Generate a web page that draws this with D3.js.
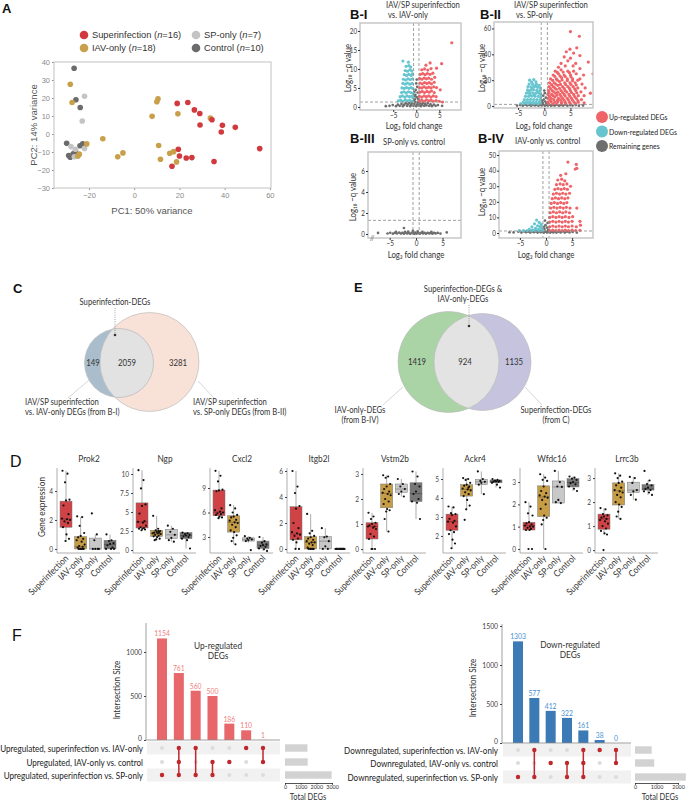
<!DOCTYPE html>
<html><head><meta charset="utf-8">
<script src="https://cdn.jsdelivr.net/npm/d3@7"></script>
<style>body{margin:0;background:#fff}svg{display:block}</style>
</head><body><svg id="c" width="687" height="800"></svg>
<script>
// ---------------- DATA ----------------
// Panel A: PCA (PC1, PC2)
const pcaGroups = ["Superinfection", "IAV-only", "SP-only", "Control"];
const pcaCounts = [16, 18, 7, 10];
const pcaSuper = [[19,17],[23.7,17.5],[26.6,13.4],[29,11.4],[29.1,5],[34.4,7.9],[39,4.8],[38.5,1.1],[44.7,3.7],[19.5,-8.5],[20,-12.2],[23,-13.3],[25.5,-13.1],[16.7,-17.9],[35.3,-15.3],[55.5,-8.1]];
const pcaIAV = [[-28.3,27.6],[-27.5,17.5],[-13.9,-2.6],[-21,-5.5],[-24.3,-11.2],[-25,-12.2],[-7.3,-12.7],[-5,-10.5],[7.9,9.8],[10,17.9],[10.5,19.5],[10.8,-6.4],[11.6,-14],[15.7,-10.7],[17.4,-9.8],[18.7,-15.5],[19.3,11.2],[33.7,8.8]];
const pcaSP = [[-22,21],[-23,7.2],[-28,-7],[-26,-8.5],[-26.5,-12.7],[-22,-8],[-25,-12.5]];
const pcaControl = [[-26.6,36.5],[-25.8,19],[-23.9,14.7],[-29.9,-5.2],[-22.8,-5.5],[-29,-12],[-28.3,-12.9],[-26,-9.5],[-27,-11],[-24,-6.5]];
const pcaXTicks = [-20, 0, 20, 40, 60];
const pcaYTicks = [-30, -20, -10, 0, 10, 20, 30, 40];

// Panel B: volcano points (log2 fold change, -log10 q)
const fcThresh = 0.585, qThresh = 1.3;
const volcLegend = ["Up-regulated DEGs", "Down-regulated DEGs", "Remaining genes"];
const bIGray = "-6.6,0.2 -5.8,0.3 -5.1,0.5 -4.4,0.2 -4.0,0.6 -3.6,0.3 -3.2,0.8 -2.9,0.2 -2.6,0.6 -2.3,1.0 -2.0,0.3 -1.8,0.7 -1.5,1.1 -1.3,0.2 -1.1,0.6 -0.9,1.0 -0.6,0.3 -0.4,0.8 -0.2,1.3 0,0.2 0.2,0.7 0.4,1.2 0.6,0.4 0.8,0.9 1.0,0.2 1.2,0.6 1.4,1.0 1.7,0.3 1.9,0.8 2.2,0.4 2.5,1.0 2.8,0.3 3.1,0.7 3.4,0.2 3.8,0.6 4.2,0.3 4.7,0.5 5.6,0.3 -0.3,2.0 0.1,2.6 -0.2,3.2 0.3,3.8 -0.1,4.5 0.2,5.3 0,6.2 -0.3,2.8 0.4,2.2 -0.4,4.0 0.1,7.2 -0.5,1.7 0.5,1.8";
const bIBlue = "-3.9,1.6 -3.4,1.8 -2.9,1.5 -2.4,1.9 -1.9,1.6 -1.4,1.8 -0.9,1.5 -3.5,2.7 -3.0,2.9 -2.5,2.6 -2.0,2.9 -1.5,2.7 -1.0,2.8 -0.7,2.4 -3.2,3.8 -2.7,4.0 -2.2,3.7 -1.7,4.0 -1.2,3.8 -0.7,3.6 -3.1,5.0 -2.6,4.9 -2.1,5.1 -1.6,4.9 -1.1,5.1 -0.7,4.8 -2.9,6.2 -2.4,6.0 -1.9,6.3 -1.4,6.0 -0.9,6.2 -2.8,7.3 -2.3,7.1 -1.8,7.4 -1.3,7.2 -0.8,7.4 -2.6,8.5 -2.1,8.3 -1.6,8.6 -1.1,8.3 -0.8,8.7 -2.4,9.6 -1.9,9.4 -1.4,9.8 -1.0,9.5 -2.2,10.7 -1.6,10.9 -1.2,10.5 -2.9,12.1 -1.7,11.8";
const bIRed = "0.7,1.6 1.2,1.8 1.7,1.5 2.2,1.9 2.7,1.6 3.2,1.8 3.7,1.5 4.3,1.7 5.0,1.5 5.7,1.3 0.7,2.8 1.2,2.6 1.7,2.9 2.2,2.7 2.7,2.9 3.2,2.6 3.7,2.9 4.3,2.7 0.8,3.9 1.3,4.1 1.8,3.8 2.3,4.1 2.8,3.9 3.3,4.2 3.9,3.8 5.2,4.5 0.7,5.1 1.2,5.0 1.7,5.3 2.2,5.0 2.7,5.2 3.2,5.0 3.8,5.3 4.4,5.1 0.8,6.3 1.3,6.1 1.8,6.4 2.3,6.2 2.8,6.4 3.3,6.1 3.9,6.5 0.7,7.5 1.2,7.3 1.7,7.6 2.2,7.4 2.7,7.6 3.3,7.3 4.0,7.8 0.9,8.6 1.4,8.8 1.9,8.5 2.4,8.8 3.0,8.6 3.6,8.9 1.2,9.8 1.8,10.0 2.5,9.7 3.2,10.1 4.4,10.2 5.5,11.4 2.1,11.0 7.7,16.9 3.0,11.6";
const bIIGray = "-5.2,0.4 -4.6,0.8 -4.1,0.3 -3.7,1.0 -3.3,0.5 -2.9,0.9 -2.5,0.3 -2.1,1.0 -1.8,0.5 -1.4,0.9 -1.1,0.3 -0.8,1.0 -0.5,0.5 -0.2,1.2 0.1,0.3 0.4,0.9 0.7,0.4 1.0,1.0 1.3,0.3 1.7,0.8 2.0,0.4 2.4,1.0 2.8,0.3 3.2,0.8 3.6,0.4 4.0,1.0 4.4,0.3 4.9,0.7 5.4,0.4 6.0,0.8 6.6,0.3 7.4,0.5 -0.3,2.5 0.2,3.5 -0.1,5 0.3,6.5 -0.2,8 0.1,10 0.4,2 -0.4,4 0,12";
const bIIBlue = "-2.8,20 -2.0,20.5 -2.4,18.5 -1.6,18.8 -2.9,17 -2.2,16.8 -1.5,17 -1.0,16 -3.1,15 -2.5,14.8 -1.9,15 -1.3,14.6 -0.8,14 -3.2,12.5 -2.6,12.3 -2.0,12.6 -1.4,12.3 -0.8,12 -3.4,10 -2.8,10 -2.2,10.2 -1.6,10 -1.0,10 -0.7,9 -3.6,7.5 -3.0,7.5 -2.4,7.7 -1.8,7.5 -1.2,7.5 -0.7,7 -3.8,5 -3.2,5 -2.6,5.2 -2.0,5 -1.4,5 -0.8,5 -4.0,3 -3.4,3 -2.8,3.2 -2.2,3 -1.6,3 -1.0,3 -0.7,2.5 -4.5,1.8 -3.8,1.7 -3.1,1.8 -2.5,1.7 -1.9,1.8 -1.3,1.7 -0.8,1.8 -2.7,8.8 -1.9,8.7 -1.3,11 -2.3,13.6 -1.7,15.8 -3.0,11.2";
const bIIRed = "5.0,57.6 6.7,54 6.2,45 4.9,44 4.2,42 5.6,41 6.8,39 3.8,38 5.0,37 4.5,35 8.4,34 6.0,33 3.2,33 5.5,31 9.3,25 2.7,30 4.0,31 6.8,29 7.5,24 2.1,27 3.2,28 4.5,27 5.6,27 1.7,24 2.7,25 3.8,24 5.0,24 6.1,25 6.8,21 1.2,21 2.3,21 3.3,22 4.4,21 5.4,21 6.4,20 1.0,18 1.9,18 2.9,19 3.9,18 4.9,18 5.9,18 7.2,17 0.9,15 1.7,15 2.6,16 3.5,15 4.5,15 5.5,15 6.4,14 7.8,14 0.8,12 1.5,12 2.3,13 3.2,12 4.0,12 5.0,12 6.0,12 7.0,11 0.7,9 1.4,9 2.2,10 3.0,9 3.8,9 4.7,9 5.6,9 6.5,8 7.6,8 8.8,10 0.7,6 1.3,6 2.0,7 2.7,6 3.5,6 4.4,6 5.2,6 6.1,6 7.1,5 0.7,3 1.3,3.5 2.0,3 2.6,3.5 3.3,3 4.0,3 4.8,3 5.7,3 6.5,3 7.6,2.5 0.8,1.7 1.6,1.8 2.4,1.7 3.3,1.8 4.1,1.7 5.0,1.8 6.0,1.7 1.1,4.5 1.8,5 2.5,4.5 3.1,4.8 3.8,4.5 4.6,4.7 5.4,4.5 6.4,4.2 1.0,7.5 1.7,8 2.4,8.3 3.2,7.5 4.0,7.7 4.9,7.5 5.8,7.4 0.9,10.5 1.8,11 2.6,10.7 3.5,10.5 4.3,10.8 5.2,10.5 6.2,10.3 1.2,13.5 2.0,14 2.9,13.7 3.8,13.5 4.8,13.6 5.8,13.3 1.4,16.5 2.2,17 3.1,16.7 4.1,16.5 5.1,16.6 6.1,16.3 1.6,19.8 2.5,20 3.4,20.2 4.4,19.7 5.4,19.5 2.0,23 3.0,23.3 4.0,22.8 5.1,22.6 2.5,26 3.6,26.3 4.8,25.8";
const bIIIGray = "-7.2,0.1 -5.4,0.05 -4.9,0.12 -4.4,0.03 -4.0,0.1 -3.6,0.05 -3.2,0.14 -2.9,0.04 -2.6,0.1 -2.3,0.03 -2.0,0.12 -1.7,0.05 -1.4,0.1 -1.1,0.02 -0.8,0.12 -0.5,0.06 -0.2,0.14 0.1,0.04 0.4,0.11 0.7,0.03 1.0,0.12 1.3,0.05 1.6,0.1 1.9,0.03 2.2,0.12 2.5,0.06 2.8,0.1 3.1,0.03 3.4,0.12 3.7,0.06 4.1,0.1 4.6,0.04 5.8,0.15 -2.3,0.57 -0.6,0.3 0.3,0.25 -1.5,0.22 -3.8,0.2 -2.1,0.2 -0.3,0.02 1.2,0.2 2.9,0.2";
const bIVGray = "-7.0,0.5 -6.2,0.4 -5.3,0.8 -4.7,0.3 -4.2,1.0 -3.8,0.5 -3.4,0.9 -3.0,0.3 -2.6,1.0 -2.3,0.5 -1.9,0.9 -1.6,0.3 -1.3,1.0 -1.0,0.5 -0.7,1.1 -0.4,0.3 -0.1,0.9 0.2,0.4 0.5,1.0 0.8,0.3 1.1,0.8 1.4,0.4 1.7,1.0 2.0,0.3 2.4,0.8 2.8,0.4 3.2,1.0 3.6,0.3 4.0,0.8 4.5,0.4 5.1,0.7 5.9,0.3 -0.3,2.5 0.2,3.5 -0.1,5 0.3,6.5 -0.2,8 0.4,2 -0.4,4";
const bIVBlue = "-1.8,8.3 -1.3,6.8 -2.2,5.9 -0.9,5.5 -1.6,4.6 -2.7,3.9 -1.1,3.6 -2.0,3.0 -3.2,2.4 -0.8,2.6 -1.5,2.2 -2.5,1.8 -3.6,1.6 -4.3,1.5 -5.1,1.5 -0.7,1.6 -1.2,1.5 -2.0,1.5 -2.9,1.5 -1.0,4.6";
const bIVRed = "0.7,1.6 1.3,1.8 1.9,1.6 2.5,1.9 3.1,1.6 3.7,1.8 4.3,1.6 5.0,1.8 5.7,1.6 6.5,1.7 0.7,4 1.3,4.5 1.9,4 2.5,4.5 3.1,4 3.7,4.5 4.3,4 5.0,4.5 5.8,4 6.6,5 0.7,7 1.3,7.5 1.9,7 2.5,7.5 3.1,7 3.7,7.5 4.3,7 5.0,7.5 6.5,7.5 0.7,10 1.3,10.5 1.9,10 2.5,10.5 3.1,10 3.7,10.5 4.4,10 5.1,10.5 0.8,13 1.4,13.5 2.0,13 2.6,13.5 3.2,13 3.8,13.5 4.5,13 0.9,16 1.5,16.5 2.1,16 2.7,16.5 3.3,16 3.9,16.5 4.6,16 5.9,16 1.0,19 1.6,19.5 2.2,19 2.8,19.5 3.4,19 4.0,19.5 1.2,22 1.8,22.5 2.4,22 3.0,22.5 3.6,22 4.2,22.5 1.4,25 2.0,25.5 2.6,25 3.2,25.5 3.8,25 4.5,25.5 1.7,28 2.3,28.5 2.9,28 3.5,28.5 4.1,28 2.0,31 2.7,31.5 3.3,31 4.0,31.5 4.7,30 2.25,34 3.0,34.5 3.6,33.5 2.8,37 3.8,38 5.6,41 5.9,41.5 4.2,45.5 5.8,44";

// Panel C / E: Venn counts
const vennC = [149, 2059, 3281];
const vennE = [1419, 924, 1135];

// Panel D: box stats [q1, median, q3, whiskerLow, whiskerHigh] per group, and points
const dGenes = ["Prok2", "Ngp", "Cxcl2", "Itgb2l", "Vstm2b", "Ackr4", "Wfdc16", "Lrrc3b"];
const dGroups = ["Superinfection", "IAV-only", "SP-only", "Control"];
const prok2Stats = [[1.5,2.07,3.3,0.5,5.4],[0,0.15,0.85,0,2.2],[0,0,0.75,0,1.0],[0,0.3,0.6,0,1.0]];
const prok2Pts = [[5.4,5.2,4.6,3.4,3.35,3.0,2.4,2.1,2.05,2.0,1.9,1.8,1.5,1.0,0.7,0.55],[2.25,2.2,1.6,1.1,0.9,0.8,0.7,0.6,0.5,0.3,0.2,0.15,0.1,0,0,0,0,0],[2.45,1.0,0.6,0,0,0,0],[1.0,0.6,0.55,0.4,0.35,0.25,0.1,0,0,0]];
const ngpStats = [[2.9,3.7,6.2,2.6,10.5],[1.8,2.2,2.6,1.3,4.5],[1.5,2.0,2.7,1.1,3.2],[1.5,1.9,2.3,0.2,2.3]];
const ngpPts = [[10.5,9.2,8.1,6.0,5.8,4.8,3.8,3.7,3.6,3.2,3.0,2.9,2.8,2.8,2.7,2.6],[4.5,2.8,2.6,2.5,2.4,2.3,2.3,2.2,2.2,2.1,2.0,1.9,1.8,1.7,1.5,1.4,1.3,2.5],[3.2,2.8,2.4,2.0,1.6,1.3,1.1],[2.3,2.2,2.1,2.0,1.9,1.8,1.7,1.5,1.3,0.2]];
const cxcl2Stats = [[5.6,6.05,8.75,5.3,11.1],[3.6,4.8,5.6,2.1,6.9],[2.5,2.7,2.9,2.3,3.1],[1.6,2.0,2.5,1.3,3.0]];
const cxcl2Pts = [[11.1,10.5,9.8,8.8,8.7,8.6,6.5,6.3,6.1,6.0,5.9,5.8,5.7,5.5,5.4,5.3],[6.9,6.5,6.0,5.7,5.5,5.4,5.1,5.0,4.8,4.7,4.5,4.2,3.8,3.6,3.2,2.9,2.5,2.1],[3.1,2.9,2.8,2.7,2.6,2.5,1.4],[3.0,2.5,2.3,2.1,2.0,1.9,1.8,1.6,1.5,1.3]];
const itgb2lStats = [[0.7,1.15,3.25,0,6.0],[0,0.5,0.95,0,2.7],[0,0.6,0.95,0,1.6],[0,0,0,0,0]];
const itgb2lPts = [[6.0,4.8,4.3,3.3,3.1,2.0,1.6,1.3,1.2,1.1,1.0,0.8,0.7,0.5,0,0],[2.7,1.4,1.2,1.0,0.9,0.8,0.7,0.6,0.5,0.5,0.4,0.3,0.1,0,0,0,0,0],[1.6,0.95,0.9,0.6,0.2,0,0],[0,0,0,0,0,0,0,0,0,0]];
const vstm2bStats = [[0.4,0.9,1.05,0,1.45],[1.65,2.23,2.6,0.7,2.95],[2.27,2.4,2.6,2.1,2.8],[1.9,2.22,2.65,1.2,3.1]];
const vstm2bPts = [[1.45,1.3,1.2,1.05,1.0,0.95,0.9,0.9,0.85,0.8,0.6,0.5,0.4,0,0,0],[2.95,2.9,2.85,2.6,2.5,2.4,2.3,2.25,2.2,2.15,2.0,1.9,1.8,1.6,1.55,1.5,1.2,0.7],[2.8,2.6,2.5,2.4,2.3,2.2,2.1],[3.1,2.9,2.6,2.5,2.3,2.2,2.0,1.9,1.85,1.2]];
const ackr4Stats = [[2.3,2.75,3.15,1.35,3.55],[4.1,4.45,4.7,3.4,5.05],[4.7,4.85,4.98,4.2,5.4],[4.8,4.87,4.95,4.55,5.0]];
const ackr4Pts = [[3.55,3.5,3.2,3.15,3.1,2.9,2.8,2.75,2.7,2.5,2.3,2.2,2.1,1.8,1.6,1.35],[5.05,5.0,4.95,4.8,4.7,4.65,4.6,4.5,4.45,4.4,4.3,4.2,4.1,3.9,3.6,3.4,2.85,4.55],[5.4,5.0,4.9,4.85,4.8,4.7,4.2],[5.0,4.95,4.92,4.9,4.88,4.86,4.85,4.8,4.7,4.55]];
const wfdc16Stats = [[0.85,1.05,1.2,0.85,2.1],[1.45,2.33,2.83,0,3.35],[2.06,2.78,3.05,2.06,3.5],[2.78,2.98,3.15,2.6,3.25]];
const wfdc16Pts = [[2.1,1.9,1.6,1.5,1.2,1.15,1.1,1.05,1.0,1.0,0.95,0.9,0.85,0.85,0,0],[3.35,3.2,3.1,3.05,2.8,2.6,2.5,2.4,2.35,2.3,2.2,2.0,1.8,1.5,1.4,1.3,1.1,0],[3.5,3.0,2.8,2.78,2.2,2.1,2.06],[3.25,3.2,3.15,3.1,3.0,2.95,2.9,2.8,2.7,2.6]];
const lrrc3bStats = [[0.87,1.3,1.5,0.65,1.75],[1.88,2.47,2.8,1.3,3.2],[2.4,2.5,2.83,2.1,3.05],[2.5,2.55,2.73,2.3,2.9]];
const lrrc3bPts = [[1.75,1.7,1.5,1.45,1.4,1.35,1.3,1.25,1.2,1.1,1.0,0.9,0.8,0.7,0.65,0],[3.2,3.1,3.0,2.85,2.8,2.7,2.6,2.5,2.45,2.4,2.3,2.2,2.0,1.9,1.8,1.6,1.4,1.3],[3.05,3.0,2.8,2.5,2.45,2.3,2.1],[3.3,2.9,2.75,2.7,2.6,2.55,2.5,2.45,2.4,2.3]];
const dTicks = [[0,2,4],[0,2.5,5,7.5,10],[3,6,9],[0,2,4,6],[0,1,2,3],[2,3,4,5],[0,1,2,3],[0,1,2,3]];

// Panel F: UpSet
const upRows = ["Upregulated, superinfection vs. IAV-only", "Upregulated, IAV-only vs. control", "Upregulated, superinfection vs. SP-only"];
const upSizes = [1154, 761, 560, 500, 186, 110, 1];
const upSets = [[2],[0,1,2],[0,2],[1,2],[1],[0],[0,1]];
const upYTicks = [0, 500, 1000];
const upTotTicks = [0, 1000, 2000, 3000];
const downRows = ["Downregulated, superinfection vs. IAV-only", "Downregulated, IAV-only vs. control", "Downregulated, superinfection vs. SP-only"];
const downSizes = [1303, 577, 412, 322, 161, 38, 0];
const downSets = [[2],[0,2],[1],[1,2],[0,1,2],[0],[0,1]];
const downYTicks = [0, 500, 1000, 1500];
const downTotTicks = [0, 1000, 2000];

// ---------------- DRAW ----------------
const svg = d3.select("#c");
const SANS = "'Liberation Sans', Arial, sans-serif";
const MY = "Lato, 'Open Sans', sans-serif";
const CONDENSE = 0.87;
const parse = s => s.trim().split(/\s+/).map(p => p.split(",").map(Number));

function txt(g, x, y, t, o = {}) {
  const e = g.append("text").attr("x", x).attr("y", y).text(t)
    .attr("font-family", o.ff || MY).attr("font-size", o.fs || 9)
    .attr("fill", o.fill || "#333").attr("text-anchor", o.anchor || "start");
  if (o.fw) e.attr("font-weight", o.fw);
  if (o.rot) e.attr("transform", `rotate(${o.rot},${x},${y})`);
  return e;
}
function styleAxis(a, fs, fill, ff) {
  a.selectAll("text").attr("font-size", fs).attr("font-family", ff || MY).attr("fill", fill);
  a.selectAll(".tick line").attr("stroke", fill);
}

// Panel labels
txt(svg, 2, 13, "A", {ff: SANS, fs: 13, fw: "bold", fill: "#111"});
txt(svg, 13, 293, "C", {ff: SANS, fs: 13, fw: "bold", fill: "#111"});
txt(svg, 354, 292, "E", {ff: SANS, fs: 13, fw: "bold", fill: "#111"});
txt(svg, 10, 467, "D", {ff: SANS, fs: 16, fill: "#111"});
txt(svg, 12, 641, "F", {ff: SANS, fs: 16, fill: "#111"});

// ---- Panel A ----
(function () {
  const colors = ["#d1393f", "#c9a04a", "#c4c4c4", "#6b6b6b"];
  const x = d3.scaleLinear().domain([-35.5, 60.5]).range([54, 271]);
  const y = d3.scaleLinear().domain([-30, 40]).range([188, 62]);
  const g = svg.append("g");
  const xa = g.append("g").attr("transform", "translate(0,188)").call(d3.axisBottom(x).tickValues(pcaXTicks).tickSize(2).tickPadding(3));
  xa.select(".domain").remove(); styleAxis(xa, 7.5, "#8a8a8a", SANS);
  const ya = g.append("g").attr("transform", "translate(54,0)").call(d3.axisLeft(y).tickValues(pcaYTicks).tickSize(2).tickPadding(2));
  ya.select(".domain").remove(); styleAxis(ya, 7.5, "#8a8a8a", SANS);
  g.append("rect").attr("x", 54).attr("y", 62).attr("width", 217).attr("height", 126)
    .attr("fill", "none").attr("stroke", "#cfcfcf").attr("stroke-width", 1.3);
  const sets = [pcaControl, pcaSP, pcaIAV, pcaSuper];
  const cidx = [3, 2, 1, 0];
  sets.forEach((s, k) => {
    g.selectAll(null).data(s).join("circle").attr("cx", d => x(d[0])).attr("cy", d => y(d[1]))
      .attr("r", 2.8).attr("fill", colors[cidx[k]]);
  });
  txt(g, 152, 214, "PC1: 50% variance", {ff: SANS, fs: 9.5, fill: "#555", anchor: "middle"});
  txt(g, 37, 125, "PC2: 14% variance", {ff: SANS, fs: 9.5, fill: "#555", anchor: "middle", rot: -90});
  const lx = [84, 84, 196, 196], ly = [35, 48, 35, 48];
  [0, 1, 2, 3].forEach(i => {
    g.append("circle").attr("cx", lx[i]).attr("cy", ly[i]).attr("r", 4.3).attr("fill", colors[i]);
    const t = g.append("text").attr("x", lx[i] + 8).attr("y", ly[i] + 3.4).attr("font-family", SANS).attr("font-size", 9.3).attr("fill", "#333");
    t.append("tspan").text(pcaGroups[i] + " (");
    t.append("tspan").attr("font-style", "italic").text("n");
    t.append("tspan").text("=" + pcaCounts[i] + ")");
  });
})();

// ---- Panel B ----
const volcLayout = [
  {name: "B-I", lx: 350, ly: 19, title: ["IAV/SP superinfection", "vs. IAV-only"], tx: 386, ty: 7.5, x0: 360, x1: 461, y0: 23, y1: 110, xd: [-12.2, 9.7], yd: [-0.8, 22.1], yt: [0, 5, 10, 15, 20], ylx: 351, yly: 68, xlx: 414, xly: 129},
  {name: "B-II", lx: 480, ly: 19, title: ["IAV/SP superinfection", "vs. SP-only"], tx: 514, ty: 7.5, x0: 494, x1: 593, y0: 22, y1: 108, xd: [-9.6, 9.3], yd: [-1.5, 65], yt: [0, 20, 40, 60], ylx: 485, yly: 68, xlx: 544, xly: 129},
  {name: "B-III", lx: 350, ly: 143, title: ["SP-only vs. control"], tx: 383, ty: 145, x0: 368, x1: 461, y0: 152, y1: 238, xd: [-9.1, 8.5], yd: [-0.38, 7.81], yt: [0, 2, 4, 6], ylx: 356, yly: 197, xlx: 416, xly: 257.5},
  {name: "B-IV", lx: 478, ly: 143, title: ["IAV-only vs. control"], tx: 515, ty: 144, x0: 499, x1: 593, y0: 151, y1: 238, xd: [-9, 9], yd: [-3.2, 52.6], yt: [0, 10, 20, 30, 40, 50], ylx: 485, yly: 192, xlx: 546, xly: 257.5}
];
const volcData = [
  [parse(bIGray), parse(bIBlue), parse(bIRed)],
  [parse(bIIGray), parse(bIIBlue), parse(bIIRed)],
  [parse(bIIIGray), [], []],
  [parse(bIVGray), parse(bIVBlue), parse(bIVRed)]
];
const volcColors = ["#6e6e6e", "#66c5cf", "#ef6468"];
volcLayout.forEach((L, i) => {
  const x = d3.scaleLinear().domain(L.xd).range([L.x0, L.x1]);
  const y = d3.scaleLinear().domain(L.yd).range([L.y1, L.y0]);
  const id = "clip" + i;
  svg.append("clipPath").attr("id", id).append("rect").attr("x", L.x0).attr("y", L.y0).attr("width", L.x1 - L.x0).attr("height", L.y1 - L.y0);
  const g = svg.append("g").attr("clip-path", `url(#${id})`);
  volcData[i].forEach((arr, k) => {
    g.selectAll(null).data(arr).join("circle").attr("cx", d => x(d[0])).attr("cy", d => y(d[1]))
      .attr("r", k === 0 ? 1.35 : 1.6).attr("fill", volcColors[k]);
  });
  [-fcThresh, fcThresh].forEach(v => g.append("line").attr("x1", x(v)).attr("x2", x(v)).attr("y1", L.y0).attr("y2", L.y1)
    .attr("stroke", "#888").attr("stroke-width", 0.8).attr("stroke-dasharray", "3,2"));
  g.append("line").attr("x1", L.x0).attr("x2", L.x1).attr("y1", y(qThresh)).attr("y2", y(qThresh))
    .attr("stroke", "#888").attr("stroke-width", 0.8).attr("stroke-dasharray", "3,2");
  svg.append("rect").attr("x", L.x0).attr("y", L.y0).attr("width", L.x1 - L.x0).attr("height", L.y1 - L.y0)
    .attr("fill", "none").attr("stroke", "#c4c4c4").attr("stroke-width", 1.4);
  const ya = svg.append("g").attr("transform", `translate(${L.x0},0)`).call(d3.axisLeft(y).tickValues(L.yt).tickSize(2).tickPadding(1));
  ya.select(".domain").remove(); styleAxis(ya, 7.2, "#333");
  const xa = svg.append("g").attr("transform", `translate(0,${L.y1})`).call(d3.axisBottom(x).tickValues([-5, 0, 5]).tickSize(2).tickPadding(0.5));
  xa.select(".domain").remove(); styleAxis(xa, 7.4, "#333");
  txt(svg, L.lx, L.ly, L.name, {ff: SANS, fs: 13, fw: "bold", fill: "#111"});
  L.title.forEach((t, j) => txt(svg, L.tx + (j ? 2 : 0), L.ty + j * 10, t, {fs: 8.8, fill: "#333"}));
  txt(svg, L.ylx, L.yly, "Log\u2081\u2080 \u2212q value", {fs: 9, anchor: "middle", fill: "#333", rot: -90});
  txt(svg, L.xlx, L.xly, "Log\u2082 fold change", {fs: 9, anchor: "middle", fill: "#333"});
  if (L.name === "B-III") txt(svg, L.x0 + 2, L.y1 + 3, "//", {fs: 7, fill: "#555"});
});
volcLegend.forEach((t, i) => {
  const cy = 117 + i * 14.5;
  svg.append("circle").attr("cx", 602).attr("cy", cy).attr("r", 6).attr("fill", [volcColors[2], volcColors[1], volcColors[0]][i]);
  txt(svg, 609, cy + 3.2, t, {fs: 7.9, fill: "#222"});
});

// ---- Venn C & E ----
function venn(cfg, counts) {
  const g = svg.append("g");
  const [A, B] = cfg.circles;
  g.append("circle").attr("cx", B.cx).attr("cy", B.cy).attr("r", B.r).attr("fill", B.fill);
  g.append("circle").attr("cx", A.cx).attr("cy", A.cy).attr("r", A.r).attr("fill", A.fill);
  svg.append("clipPath").attr("id", cfg.id).append("circle").attr("cx", B.cx).attr("cy", B.cy).attr("r", B.r);
  g.append("circle").attr("cx", A.cx).attr("cy", A.cy).attr("r", A.r).attr("fill", cfg.mid).attr("clip-path", `url(#${cfg.id})`);
  g.append("circle").attr("cx", A.cx).attr("cy", A.cy).attr("r", A.r).attr("fill", "none").attr("stroke", "#bdbdbd").attr("stroke-width", 0.7);
  g.append("circle").attr("cx", B.cx).attr("cy", B.cy).attr("r", B.r).attr("fill", "none").attr("stroke", "#bdbdbd").attr("stroke-width", 0.7);
  counts.forEach((c, i) => txt(g, cfg.numX[i], cfg.numY, c, {fs: 9, anchor: "middle", fill: "#333"}));
  cfg.head.forEach((t, i) => txt(g, cfg.headX, cfg.headY + i * 10, t, {fs: 8.8, anchor: "middle", fill: "#333"}));
  g.append("line").attr("x1", cfg.dotX).attr("x2", cfg.dotX).attr("y1", cfg.lineY0).attr("y2", cfg.dotY - 2)
    .attr("stroke", "#666").attr("stroke-width", 0.6).attr("stroke-dasharray", "1,1.2");
  g.append("circle").attr("cx", cfg.dotX).attr("cy", cfg.dotY).attr("r", 1.3).attr("fill", "#333");
  cfg.leaders.forEach(l => g.append("line").attr("x1", l[0]).attr("y1", l[1]).attr("x2", l[2]).attr("y2", l[3]).attr("stroke", "#bbb").attr("stroke-width", 0.6));
  cfg.labels.forEach(l => l.lines.forEach((t, i) => txt(g, l.x, l.y + i * 10, t, {fs: 8.8, anchor: l.anchor, fill: "#333"})));
}
venn({id: "vc", circles: [{cx: 119, cy: 363, r: 34.5, fill: "#aabdcc"}, {cx: 149.5, cy: 362, r: 49.5, fill: "#f8e1d7"}], mid: "#e2e2e2",
  numX: [93, 127, 178], numY: 366, head: ["Superinfection-DEGs"], headX: 115, headY: 305, dotX: 115, dotY: 335, lineY0: 308,
  leaders: [[89, 380, 68, 398], [198, 381, 214, 398]],
  labels: [{x: 25, y: 405, anchor: "start", lines: ["IAV/SP superinfection", "vs. IAV-only DEGs (from B-I)"]}, {x: 193, y: 405, anchor: "start", lines: ["IAV/SP superinfection", "vs. SP-only DEGs (from B-II)"]}]}, vennC);
venn({id: "ve", circles: [{cx: 448.5, cy: 362, r: 50.5, fill: "#aad3a6"}, {cx: 482.5, cy: 362, r: 48.5, fill: "#c6c3df"}], mid: "#e3e3e3",
  numX: [417, 465, 514], numY: 365, head: ["Superinfection-DEGs &", "IAV-only-DEGs"], headX: 463, headY: 292, dotX: 469, dotY: 326, lineY0: 305,
  leaders: [[403, 387, 383, 405], [525, 387, 542, 405]],
  labels: [{x: 360, y: 413, anchor: "middle", lines: ["IAV-only-DEGs", "(from B-IV)"]}, {x: 556, y: 413, anchor: "middle", lines: ["Superinfection-DEGs", "(from C)"]}]}, vennE);

// ---- Panel D ----
(function () {
  const stats = [prok2Stats, ngpStats, cxcl2Stats, itgb2lStats, vstm2bStats, ackr4Stats, wfdc16Stats, lrrc3bStats];
  const pts = [prok2Pts, ngpPts, cxcl2Pts, itgb2lPts, vstm2bPts, ackr4Pts, wfdc16Pts, lrrc3bPts];
  const doms = [[-0.28, 5.59], [-0.39, 10.79], [1.04, 11.45], [-0.31, 6.23], [-0.16, 3.24], [1.1, 5.58], [-0.18, 3.63], [-0.12, 3.42]];
  const axX = [57, 133, 210, 287, 363, 443, 520, 595];
  const fills = ["#cf4246", "#c69d45", "#c8c8c8", "#777777"];
  const jit = [-3.5, 1.5, -1, 3.5, 0, -2.5, 2.5, -4, 1, 4, -1.5, 2, -3, 0.5, 3, -0.5, -2, 1.8];
  const top = 468, bot = 553;
  dGenes.forEach((gene, i) => {
    const g = svg.append("g");
    const a0 = axX[i];
    const y = d3.scaleLinear().domain(doms[i]).range([bot, top]);
    const x = d3.scalePoint().domain(dGroups).range([a0 + 9, a0 + 53]);
    g.append("line").attr("x1", a0).attr("x2", a0).attr("y1", top).attr("y2", bot).attr("stroke", "#999").attr("stroke-width", 0.8);
    g.append("line").attr("x1", a0).attr("x2", a0 + 63).attr("y1", bot).attr("y2", bot).attr("stroke", "#999").attr("stroke-width", 0.8);
    const ya = g.append("g").attr("transform", `translate(${a0},0)`).call(d3.axisLeft(y).tickValues(dTicks[i]).tickSize(2).tickPadding(2).tickFormat(d3.format("")));
    ya.select(".domain").remove(); styleAxis(ya, 7.5, "#444");
    txt(g, a0 + 32, 462, gene, {fs: 9.5, anchor: "middle", fill: "#333"});
    dGroups.forEach((grp, j) => {
      const [q1, md, q3, lo, hi] = stats[i][j];
      const cx = x(grp);
      g.append("line").attr("x1", cx).attr("x2", cx).attr("y1", y(lo)).attr("y2", y(hi)).attr("stroke", "#888").attr("stroke-width", 0.7);
      g.append("rect").attr("x", cx - 6).attr("y", y(q3)).attr("width", 12).attr("height", Math.max(0.01, y(q1) - y(q3)))
        .attr("fill", fills[j]).attr("stroke", "#777").attr("stroke-width", 0.5);
      g.append("line").attr("x1", cx - 6).attr("x2", cx + 6).attr("y1", y(md)).attr("y2", y(md))
        .attr("stroke", d3.color(fills[j]).darker(0.9)).attr("stroke-width", 0.9);
      g.selectAll(null).data(pts[i][j]).join("circle").attr("cx", (d, k) => cx + jit[k % jit.length]).attr("cy", d => y(d))
        .attr("r", 1.1).attr("fill", "#111");
      txt(g, cx + 3, bot + 6, grp, {fs: 9.3, anchor: "end", fill: "#333", rot: -45});
    });
  });
  txt(svg, 45, 507, "Gene expression", {fs: 9.5, anchor: "middle", fill: "#333", rot: -90});
})();

// ---- Panel F ----
function upset(L, rows, sizes, sets, yTicks, totTicks) {
  const g = svg.append("g");
  const y = d3.scaleLinear().domain([0, yTicks[yTicks.length - 1]]).range([L.base, L.tickTopY]);
  const x = d3.scalePoint().domain(d3.range(sizes.length)).range([L.bx0, L.bx1]);
  [0, 2].forEach(r => g.append("rect").attr("x", L.sx0).attr("y", L.rowY[r] - 6.5).attr("width", L.sx1 - L.sx0).attr("height", 13).attr("fill", "#f1f1f1"));
  g.selectAll(null).data(sizes).join("rect").attr("x", (d, i) => x(i) - 5).attr("width", 10)
    .attr("y", d => y(d)).attr("height", d => L.base - y(d)).attr("fill", L.barColor);
  g.selectAll(null).data(sizes).join("text").attr("x", (d, i) => x(i)).attr("y", d => y(d) - 2).text(d => d)
    .attr("text-anchor", "middle").attr("font-family", MY).attr("font-size", 7.8).attr("fill", L.lblColor);
  g.append("line").attr("x1", L.axX).attr("x2", L.axX).attr("y1", L.axTop).attr("y2", L.base).attr("stroke", "#888").attr("stroke-width", 0.8);
  g.append("line").attr("x1", L.axX).attr("x2", L.sx1).attr("y1", L.base).attr("y2", L.base).attr("stroke", "#888").attr("stroke-width", 0.8);
  const ya = g.append("g").attr("transform", `translate(${L.axX},0)`).call(d3.axisLeft(y).tickValues(yTicks).tickSize(2).tickPadding(2).tickFormat(d3.format("d")));
  ya.select(".domain").remove(); styleAxis(ya, 7.8, "#444");
  ya.selectAll(".tick text").filter(d => d === 0).attr("dy", "0.02em");
  txt(g, L.ylX, L.ylY, "Intersection Size", {fs: 9.3, anchor: "middle", fill: "#333", rot: -90});
  L.title.forEach((t, i) => txt(g, L.tX, L.tY + i * 10, t, {fs: 9.6, anchor: "middle", fill: "#333"}));
  sizes.forEach((s, i) => {
    const act = sets[i];
    const ys = act.map(r => L.rowY[r]);
    [0, 1, 2].forEach(r => {
      if (!act.includes(r)) g.append("circle").attr("cx", x(i)).attr("cy", L.rowY[r]).attr("r", 2).attr("fill", "#dcdcdc");
    });
    if (act.length > 1) g.append("line").attr("x1", x(i)).attr("x2", x(i)).attr("y1", d3.min(ys)).attr("y2", d3.max(ys)).attr("stroke", "#c0272d").attr("stroke-width", 1.5);
    act.forEach(r => g.append("circle").attr("cx", x(i)).attr("cy", L.rowY[r]).attr("r", 2.2).attr("fill", "#c0272d"));
  });
  rows.forEach((t, r) => txt(g, L.labX, L.rowY[r] + 3.5, t, {fs: 9.3, anchor: "end", fill: "#222"}));
  const totals = [0, 1, 2].map(r => d3.sum(sizes.filter((s, i) => sets[i].includes(r))));
  const tx = d3.scaleLinear().domain([0, totTicks[totTicks.length - 1]]).range([L.tx0, L.tx1]);
  totals.forEach((t, r) => g.append("rect").attr("x", tx(0)).attr("y", L.rowY[r] - 3.7).attr("width", tx(t) - tx(0)).attr("height", 7.4).attr("fill", "#d2d2d2"));
  const ta = g.append("g").attr("transform", `translate(0,${L.totAxY})`).call(d3.axisBottom(tx).tickValues(totTicks).tickSize(1.5).tickPadding(0.5).tickFormat(d3.format("d")));
  ta.select(".domain").attr("stroke", "#555"); styleAxis(ta, 6.2, "#333");
  txt(g, L.ttX, 799.5, "Total DEGs", {fs: 8.6, anchor: "middle", fill: "#333"});
}
upset({base: 740, tickTopY: 652, axTop: 623, axX: 146, bx0: 162, bx1: 263, sx0: 147, sx1: 280, rowY: [748, 762, 775], labX: 143,
  barColor: "#e8676a", lblColor: "#f07f80", ylX: 120, ylY: 690, title: ["Up-regulated", "DEGs"], tX: 218, tY: 649,
  tx0: 285, tx1: 332, totAxY: 783, ttX: 308}, upRows, upSizes, upSets, upYTicks, upTotTicks);
upset({base: 743, tickTopY: 626, axTop: 624, axX: 502, bx0: 518, bx1: 616, sx0: 503, sx1: 631, rowY: [750, 763, 777], labX: 498,
  barColor: "#3b7ab5", lblColor: "#4a8fd0", ylX: 476, ylY: 688, title: ["Down-regulated", "DEGs"], tX: 570, tY: 648,
  tx0: 635, tx1: 678, totAxY: 783, ttX: 660}, downRows, downSizes, downSets, downYTicks, downTotTicks);

// condense the humanist sans text to mimic a narrow (Myriad-like) face
svg.selectAll("text").each(function () {
  if (this.getAttribute("font-family") === MY) {
    const len = this.getComputedTextLength();
    if (len > 0) d3.select(this).attr("textLength", (len * CONDENSE).toFixed(2)).attr("lengthAdjust", "spacingAndGlyphs");
  }
});
</script></body></html>
